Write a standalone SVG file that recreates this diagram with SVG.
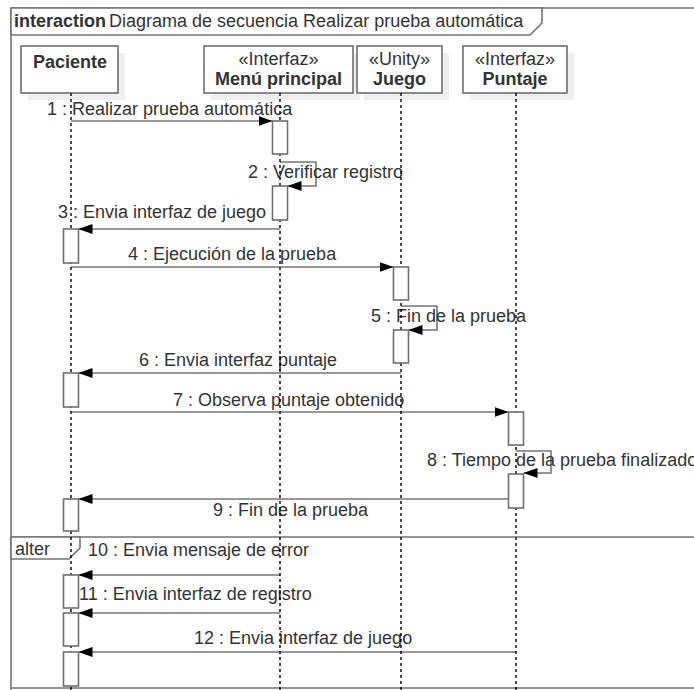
<svg xmlns="http://www.w3.org/2000/svg" width="694" height="690" viewBox="0 0 694 690">
  <defs>
    <marker id="arrow" viewBox="0 0 14 10" refX="14" refY="5" markerWidth="14" markerHeight="10" markerUnits="userSpaceOnUse" orient="auto">
      <path d="M0,0 L14,5 L0,10 z" fill="#000"/>
    </marker>
    <style>
      text { font-family: "Liberation Sans", Arial, sans-serif; font-size: 18px; fill: #333; }
      .b { font-weight: bold; }
      .frame { fill: #fff; stroke: #747474; stroke-width: 1.6; }
      .edge { fill: none; stroke: #747474; stroke-width: 1.6; }
      .head { fill: #fff; stroke: #6e6e6e; stroke-width: 1.6; }
      .shadow { fill: #efefef; stroke: none; }
      .life { stroke: #000; stroke-width: 1.4; stroke-dasharray: 3 3; }
      .act { fill: #fff; stroke: #6e6e6e; stroke-width: 1.6; }
      .msg { fill: none; stroke: #767676; stroke-width: 1.6; marker-end: url(#arrow); }
    </style>
  </defs>

  <rect width="694" height="690" fill="#fff"/>

  <!-- interaction frame -->
  <g id="frame">
    <path class="edge" d="M11,690 L11,8 L694,8"/>
    <path class="frame" d="M11,8 L542,8 L542,23 L530,35 L11,35 Z"/>
    <text x="14" y="27"><tspan class="b">interaction</tspan><tspan x="109">Diagrama de secuencia Realizar prueba automática</tspan></text>
  </g>

  <!-- alt combined fragment -->
  <g id="alter">
    <path class="edge" d="M11,537 L694,537 M11,688 L694,688"/>
    <path class="frame" d="M11,537 L80,537 L80,548 L69,559 L11,559 Z"/>
    <text x="15" y="555">alter</text>
  </g>

  <!-- messages -->
  <g id="connectors">
    <line class="msg" x1="71" y1="121" x2="272.5" y2="121"/>
    <polyline class="msg" points="280,162 316,162 316,186 287.5,186"/>
    <line class="msg" x1="280" y1="229" x2="78.5" y2="229"/>
    <line class="msg" x1="71" y1="267" x2="393.5" y2="267"/>
    <polyline class="msg" points="401,306 437,306 437,330 408.5,330"/>
    <line class="msg" x1="401" y1="373" x2="78.5" y2="373"/>
    <line class="msg" x1="71" y1="412" x2="508.5" y2="412"/>
    <polyline class="msg" points="516,451 551,451 551,473 523.5,473"/>
    <line class="msg" x1="508.5" y1="499" x2="78.5" y2="499"/>
    <line class="msg" x1="280" y1="575" x2="78.5" y2="575"/>
    <line class="msg" x1="280" y1="613" x2="78.5" y2="613"/>
    <line class="msg" x1="516" y1="652" x2="78.5" y2="652"/>

    <text x="47" y="115">1 : Realizar prueba automática</text>
    <text x="248" y="178">2 : Verificar registro</text>
    <text x="58" y="218">3 : Envia interfaz de juego</text>
    <text x="128" y="260">4 : Ejecución de la prueba</text>
    <text x="371" y="322">5 : Fin de la prueba</text>
    <text x="139" y="366">6 : Envia interfaz puntaje</text>
    <text x="173" y="406">7 : Observa puntaje obtenido</text>
    <text x="427" y="466">8 : Tiempo de la prueba finalizado</text>
    <text x="213" y="516">9 : Fin de la prueba</text>
    <text x="88" y="556">10 : Envia mensaje de error</text>
    <text x="79" y="600">11 : Envia interfaz de registro</text>
    <text x="194" y="644">12 : Envia interfaz de juego</text>
  </g>

  <!-- lifelines -->
  <g id="paciente">
    <rect class="shadow" x="28" y="53" width="97" height="47"/>
    <rect class="head" x="21" y="46" width="97" height="47"/>
    <text class="b" x="70" y="68" text-anchor="middle">Paciente</text>
    <line class="life" x1="71" y1="93" x2="71" y2="690"/>
    <rect class="act" x="63.5" y="229" width="15" height="34"/>
    <rect class="act" x="63.5" y="373" width="15" height="34"/>
    <rect class="act" x="63.5" y="499" width="15" height="32"/>
    <rect class="act" x="63.5" y="575" width="15" height="33"/>
    <rect class="act" x="63.5" y="613" width="15" height="33"/>
    <rect class="act" x="63.5" y="652" width="15" height="34"/>
  </g>

  <g id="menu-principal">
    <rect class="shadow" x="211" y="53" width="149" height="47"/>
    <rect class="head" x="204" y="46" width="149" height="47"/>
    <text x="278.5" y="65" text-anchor="middle">«Interfaz»</text>
    <text class="b" x="278.5" y="85" text-anchor="middle">Menú principal</text>
    <line class="life" x1="280" y1="93" x2="280" y2="690"/>
    <rect class="act" x="272.5" y="121" width="15" height="33"/>
    <rect class="act" x="272.5" y="186" width="15" height="34"/>
  </g>

  <g id="juego">
    <rect class="shadow" x="364" y="53" width="85" height="47"/>
    <rect class="head" x="357" y="46" width="85" height="47"/>
    <text x="399.5" y="65" text-anchor="middle">«Unity»</text>
    <text class="b" x="399.5" y="85" text-anchor="middle">Juego</text>
    <line class="life" x1="401" y1="93" x2="401" y2="690"/>
    <rect class="act" x="393.5" y="267" width="15" height="33"/>
    <rect class="act" x="393.5" y="330" width="15" height="33"/>
  </g>

  <g id="puntaje">
    <rect class="shadow" x="470" y="53" width="104" height="47"/>
    <rect class="head" x="463" y="46" width="104" height="47"/>
    <text x="515" y="65" text-anchor="middle">«Interfaz»</text>
    <text class="b" x="515" y="85" text-anchor="middle">Puntaje</text>
    <line class="life" x1="516" y1="93" x2="516" y2="690"/>
    <rect class="act" x="508.5" y="412" width="15" height="33"/>
    <rect class="act" x="508.5" y="474" width="15" height="34"/>
  </g>
</svg>
